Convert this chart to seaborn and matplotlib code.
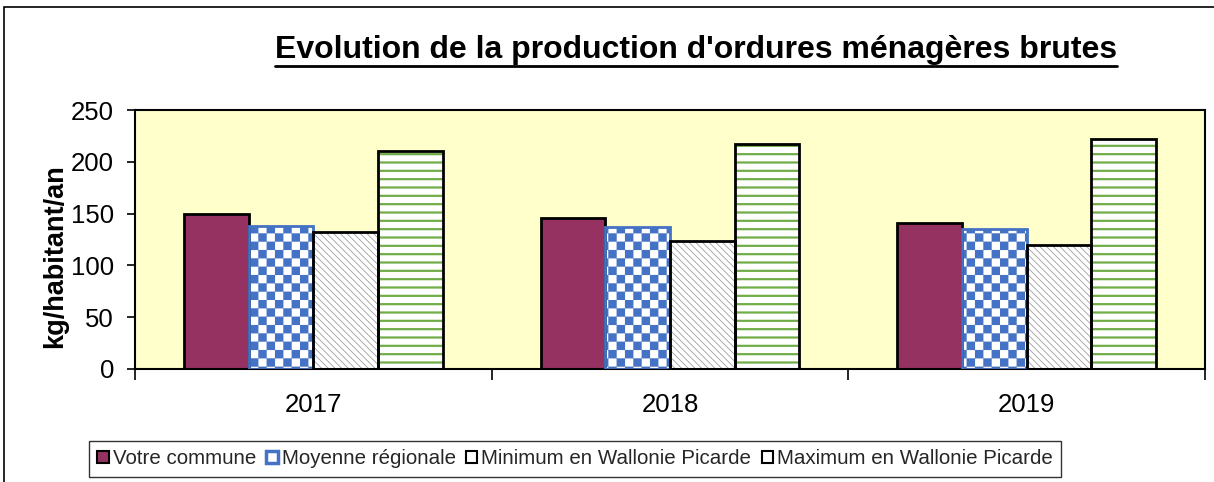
import warnings
warnings.filterwarnings("ignore")
import numpy as np
import pandas as pd
import matplotlib
matplotlib.use("Agg")
import matplotlib.pyplot as plt
import matplotlib.hatch as mhatch
from matplotlib.path import Path
from matplotlib.patches import Patch, Rectangle
from matplotlib.lines import Line2D
import seaborn as sns

# ---------------- data ----------------
years = ["2017", "2018", "2019"]
series = ["Votre commune", "Moyenne régionale",
          "Minimum en Wallonie Picarde", "Maximum en Wallonie Picarde"]
votre_commune = [150, 146, 141]
moyenne_regionale = [138, 137, 135]
minimum_wapi = [132, 124, 120]
maximum_wapi = [210, 217, 222]
yticks = [0, 50, 100, 150, 200, 250]
title = "Evolution de la production d'ordures ménagères brutes"
ylabel = "kg/habitant/an"

# ---------------- custom checkerboard hatch ----------------
class CheckerHatch(mhatch.HatchPatternBase):
    filled = True

    def __init__(self, hatch, density):
        self.num_cells = hatch.count('c') * density
        n = self.num_cells
        self.num_vertices = (n * n // 2) * 5 if n else 0

    def set_vertices_and_codes(self, vertices, codes):
        n = self.num_cells
        s = 1.0 / n
        k = 0
        for i in range(n):
            for j in range(n):
                if (i + j) % 2 == 0:
                    x0, y0 = i * s, j * s
                    vertices[k:k + 5] = [[x0, y0], [x0 + s, y0], [x0 + s, y0 + s],
                                         [x0, y0 + s], [x0, y0]]
                    codes[k:k + 5] = [Path.MOVETO, Path.LINETO, Path.LINETO,
                                      Path.LINETO, Path.CLOSEPOLY]
                    k += 5

mhatch._hatch_types.append(CheckerHatch)
mhatch._validate_hatch_pattern = lambda h: None

# ---------------- style ----------------
sns.set_theme(style="white")
plt.rcParams['font.family'] = ['Liberation Sans', 'DejaVu Sans']

df = pd.DataFrame({
    "year": np.repeat(years, 4),
    "series": series * 3,
    "value": [v for triple in zip(votre_commune, moyenne_regionale, minimum_wapi, maximum_wapi) for v in triple],
})

W, H = 1214, 482
fig = plt.figure(figsize=(W / 100, H / 100), dpi=100)
fig.patch.set_facecolor("white")
ax = fig.add_axes([135 / W, 1 - 369 / H, 1070 / W, 259 / H])
ax.set_facecolor("#FFFFCC")

maroon = "#953262"
blue = "#4472C4"
green = "#70AD47"
grey = "#A0A0A0"

face_colors = [maroon, "white", "white", "white"]
hatch_colors = [maroon, blue, grey, green]
hatches = [None, "cc", "\\\\\\\\\\", "--"]
hatch_lw = [1.0, 0.1, 0.6, 1.6]

# filled / hatched bars
sns.barplot(data=df, x="year", y="value", hue="series", hue_order=series,
            order=years, palette=face_colors, width=0.725, gap=0,
            legend=False, ax=ax, saturation=1, zorder=2)
for cont, fc, hc, hp, hl in zip(ax.containers, face_colors, hatch_colors, hatches, hatch_lw):
    for p in cont:
        p.set_facecolor(fc)
        p.set_edgecolor(hc)
        p.set_linewidth(0)
        if hp:
            p.set_hatch(hp)
        if hasattr(p, "set_hatch_linewidth"):
            p.set_hatch_linewidth(hl)

# outlines
sns.barplot(data=df, x="year", y="value", hue="series", hue_order=series,
            order=years, palette=["black", blue, "black", "black"], width=0.725,
            gap=0, fill=False, linewidth=2, legend=False, ax=ax,
            saturation=1, zorder=3)

ax.set_xlim(-0.5, 2.5)
ax.set_ylim(0, 250)
ax.set_yticks(yticks)
ax.set_yticklabels([str(t) for t in yticks], fontsize=18.5)
ax.set_xticks(range(len(years)))
ax.set_xticklabels(years, fontsize=18.5)
ax.set_xticks([-0.5, 0.5, 1.5, 2.5], minor=True)
ax.tick_params(axis="x", which="major", length=0, pad=17, colors="black")
ax.tick_params(axis="x", which="minor", length=8, width=1.2, direction="out",
               bottom=True, color="black")
ax.tick_params(axis="y", which="major", length=6, width=1.2, direction="out",
               left=True, pad=9, colors="black")
ax.set_xlabel("")
ax.set_ylabel(ylabel, fontsize=19.5, fontweight="bold", color="black")
ax.yaxis.set_label_coords(-0.0625, 0.435)
for s in ax.spines.values():
    s.set_visible(True)
    s.set_color("black")
    s.set_linewidth(1.5)

# title with underline
t = fig.text(696 / W, 1 - 50 / H, title, fontsize=23, fontweight="bold",
             ha="center", va="center", color="black")
fig.canvas.draw()
bb = t.get_window_extent()
fig.add_artist(Line2D([bb.x0 / W, bb.x1 / W], [(bb.y0 - 1) / H, (bb.y0 - 1) / H],
                      transform=fig.transFigure, color="black", lw=2))

# legend
handles = [
    Patch(facecolor=maroon, edgecolor="black", linewidth=1.5),
    Patch(facecolor="white", edgecolor=blue, linewidth=2.5),
    Patch(facecolor="white", edgecolor="black", linewidth=1.5),
    Patch(facecolor="white", edgecolor="black", linewidth=1.5),
]
leg = fig.legend(handles, series, loc="center", bbox_to_anchor=(575 / W, 1 - 459 / H),
                 ncol=4, fontsize=14.8, frameon=True, fancybox=False,
                 handlelength=0.55, handleheight=0.55, handletextpad=0.2,
                 columnspacing=0.5, borderpad=0.4, borderaxespad=0)
leg.get_frame().set_edgecolor("black")
leg.get_frame().set_linewidth(1.0)

# outer chart border (top and left)
fig.add_artist(Rectangle((4 / W, -0.1), 1.2, 1 - 7 / H + 0.1, transform=fig.transFigure,
                         fill=False, edgecolor="black", lw=1.2))

fig.savefig("out.png", dpi=100)
